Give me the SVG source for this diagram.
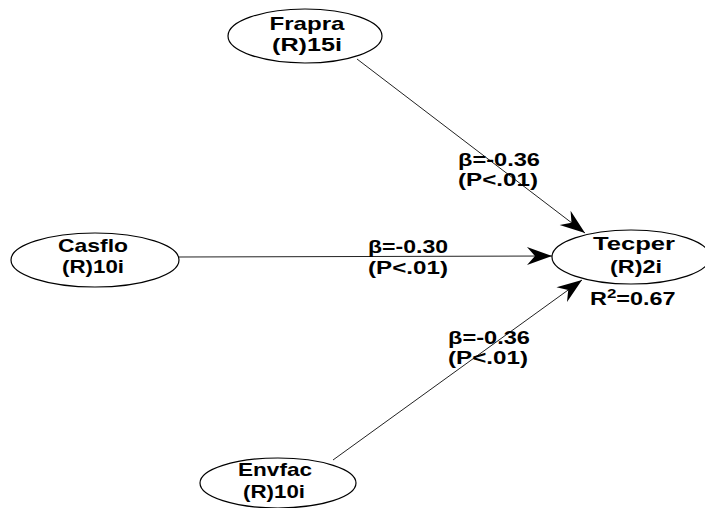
<svg xmlns="http://www.w3.org/2000/svg" width="705" height="508" viewBox="0 0 705 508">
<style>
.bg{fill:#ffffff}
.node{fill:#ffffff;stroke:#000000;stroke-width:1.2}
.t{font-family:"Liberation Sans",Arial,sans-serif;font-weight:bold;font-size:19px;fill:#000000;text-anchor:middle}
.lb{font-family:"Liberation Sans",Arial,sans-serif;font-weight:bold;font-size:18px;fill:#000000;text-anchor:start}
.edge{stroke:#222222;stroke-width:1;fill:none}
</style>
<defs>
<marker id="arr" viewBox="-26 -10 28 20" refX="0" refY="0" markerWidth="28" markerHeight="20" markerUnits="userSpaceOnUse" orient="auto">
<path d="M0,0 L-25,-9 L-17,0 L-25,9 Z" fill="#000000"/>
</marker>
</defs>
<rect class="bg" x="0" y="0" width="705" height="508"/>
<g id="connectors">
<line class="edge" x1="357" y1="59" x2="585" y2="233" marker-end="url(#arr)"/>
<line class="edge" x1="178" y1="257" x2="552" y2="256" marker-end="url(#arr)"/>
<line class="edge" x1="333" y1="460" x2="582" y2="280" marker-end="url(#arr)"/>
</g>
<g id="labels">
<text class="lb" x="458" y="166" textLength="82" lengthAdjust="spacingAndGlyphs">β=-0.36</text>
<text class="lb" x="458" y="186" textLength="80" lengthAdjust="spacingAndGlyphs">(P&lt;.01)</text>
<text class="lb" x="368" y="253" textLength="80" lengthAdjust="spacingAndGlyphs">β=-0.30</text>
<text class="lb" x="368" y="274" textLength="80" lengthAdjust="spacingAndGlyphs">(P&lt;.01)</text>
<text class="lb" x="448" y="344" textLength="82" lengthAdjust="spacingAndGlyphs">β=-0.36</text>
<text class="lb" x="448" y="364" textLength="80" lengthAdjust="spacingAndGlyphs">(P&lt;.01)</text>
</g>
<g id="Frapra">
<ellipse class="node" cx="305" cy="36" rx="77" ry="27"/>
<text class="t" x="307" y="30" textLength="75" lengthAdjust="spacingAndGlyphs">Frapra</text>
<text class="t" x="307" y="51" textLength="70" lengthAdjust="spacingAndGlyphs">(R)15i</text>
</g>
<g id="Casflo">
<ellipse class="node" cx="95" cy="260" rx="84" ry="27"/>
<text class="t" x="93" y="252" textLength="70" lengthAdjust="spacingAndGlyphs">Casflo</text>
<text class="t" x="93" y="273" textLength="62" lengthAdjust="spacingAndGlyphs">(R)10i</text>
</g>
<g id="Tecper">
<ellipse class="node" cx="631" cy="257" rx="79" ry="27"/>
<text class="t" x="634" y="250" textLength="82" lengthAdjust="spacingAndGlyphs">Tecper</text>
<text class="t" x="636" y="273" textLength="52" lengthAdjust="spacingAndGlyphs">(R)2i</text>
<g transform="translate(590,305) scale(1.3,1)">
<text class="lb" x="0" y="0" font-size="19"><tspan>R</tspan><tspan dy="-7" font-size="13">2</tspan><tspan dy="7">=0.67</tspan></text>
</g>
</g>
<g id="Envfac">
<ellipse class="node" cx="278" cy="483" rx="78" ry="25"/>
<text class="t" x="275" y="476" textLength="74" lengthAdjust="spacingAndGlyphs">Envfac</text>
<text class="t" x="274" y="498" textLength="62" lengthAdjust="spacingAndGlyphs">(R)10i</text>
</g>
</svg>
